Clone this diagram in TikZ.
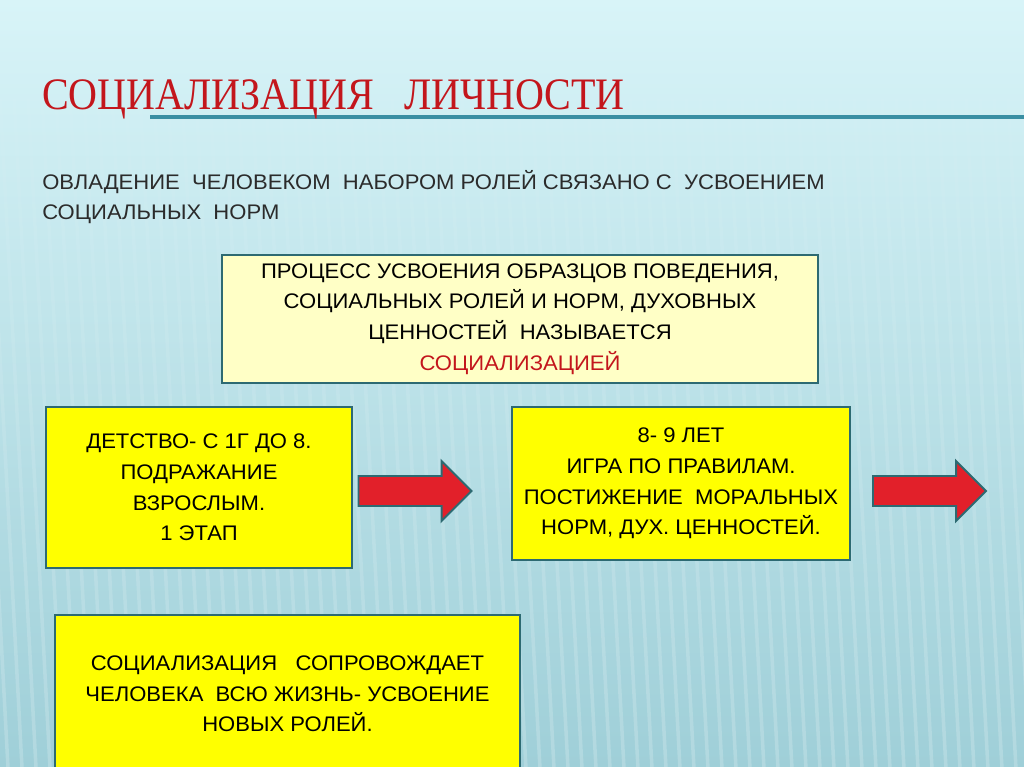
\documentclass[tikz,border=0pt]{standalone}
\usepackage{fontspec}
\setmainfont{Liberation Sans}[FakeStretch=1.045]
\newfontfamily\titlefont[FakeStretch=0.89]{Liberation Serif}
\usetikzlibrary{shapes.arrows, fadings}
\definecolor{bgtop}{HTML}{D8F4F8}
\definecolor{bgmid}{HTML}{BEE4EA}
\definecolor{bgbot}{HTML}{9FCFD8}
\definecolor{titlered}{HTML}{C3161C}
\definecolor{rulecolor}{HTML}{3A8FA3}
\definecolor{boxborder}{HTML}{2D6A72}
\definecolor{paleyellow}{HTML}{FFFFC6}
\definecolor{brightyellow}{HTML}{FFFF00}
\definecolor{arrowred}{HTML}{E2202A}
\definecolor{leadtext}{HTML}{2B2B2B}

\begin{document}
\begin{tikzpicture}[
    x=0.025cm, y=-0.025cm,
    font=\fontsize{15}{21.8}\selectfont,
    box/.style={draw=boxborder, fill=#1, line width=1.8pt, align=center, inner sep=0pt},
    redarrow/.style={shape=single arrow, draw=boxborder, fill=arrowred, line width=1.4pt, minimum height=2.825cm, minimum width=1.45cm, single arrow head extend=0.375cm, inner xsep=0pt, inner ysep=0.35cm}
]

    % Background
    \useasboundingbox (0,0) rectangle (1024,767);
    \shade[top color=bgtop, middle color=bgmid, bottom color=bgbot] (0,0) rectangle (1024,767);
    \draw[white, opacity=0.2, line width=2.5pt, path fading=north]
        \foreach \i in {-60,-46,...,1040} {(\i,20) -- (\i+40,767)};

    % Title with rule
    \draw[rulecolor, line width=2.2pt] (150,117) -- (1024,117);
    \node[anchor=base west, inner sep=0pt, text=titlered, font=\titlefont\fontsize{32}{34}\selectfont] (title) at (42,110) {СОЦИАЛИЗАЦИЯ\ \ \ ЛИЧНОСТИ};

    % Lead text
    \node[anchor=north west, inner sep=0pt, align=left, text=leadtext] (lead) at (42,170) {ОВЛАДЕНИЕ\ \ ЧЕЛОВЕКОМ\ \ НАБОРОМ РОЛЕЙ СВЯЗАНО С\ \ УСВОЕНИЕМ\\СОЦИАЛЬНЫХ\ \ НОРМ};

    % Definition box
    \node[box=paleyellow, minimum width=14.9cm, minimum height=3.2cm] (defn) at (520,319) {ПРОЦЕСС УСВОЕНИЯ ОБРАЗЦОВ ПОВЕДЕНИЯ,\\СОЦИАЛЬНЫХ РОЛЕЙ И НОРМ, ДУХОВНЫХ\\ЦЕННОСТЕЙ\ \ НАЗЫВАЕТСЯ\\\textcolor{titlered}{СОЦИАЛИЗАЦИЕЙ}};

    % Stages
    \node[box=brightyellow, minimum width=7.65cm, minimum height=4.025cm] (stage1) at (199,487.5) {ДЕТСТВО- С 1Г ДО 8.\\ПОДРАЖАНИЕ\\ВЗРОСЛЫМ.\\1 ЭТАП};
    \node[box=brightyellow, minimum width=8.45cm, minimum height=3.825cm] (stage2) at (681,483.5) {8- 9 ЛЕТ\\ИГРА ПО ПРАВИЛАМ.\\ПОСТИЖЕНИЕ\ \ МОРАЛЬНЫХ\\НОРМ, ДУХ. ЦЕННОСТЕЙ.};
    \node[redarrow] (arr1) at (407.5,491) {};
    \node[redarrow] (arr2) at (922,491) {};

    % Summary box
    \node[box=brightyellow, minimum width=11.625cm, minimum height=3.95cm] (summary) at (287.5,694) {СОЦИАЛИЗАЦИЯ\ \ \ СОПРОВОЖДАЕТ\\ЧЕЛОВЕКА\ \ ВСЮ ЖИЗНЬ- УСВОЕНИЕ\\НОВЫХ РОЛЕЙ.};

\end{tikzpicture}
\end{document}
